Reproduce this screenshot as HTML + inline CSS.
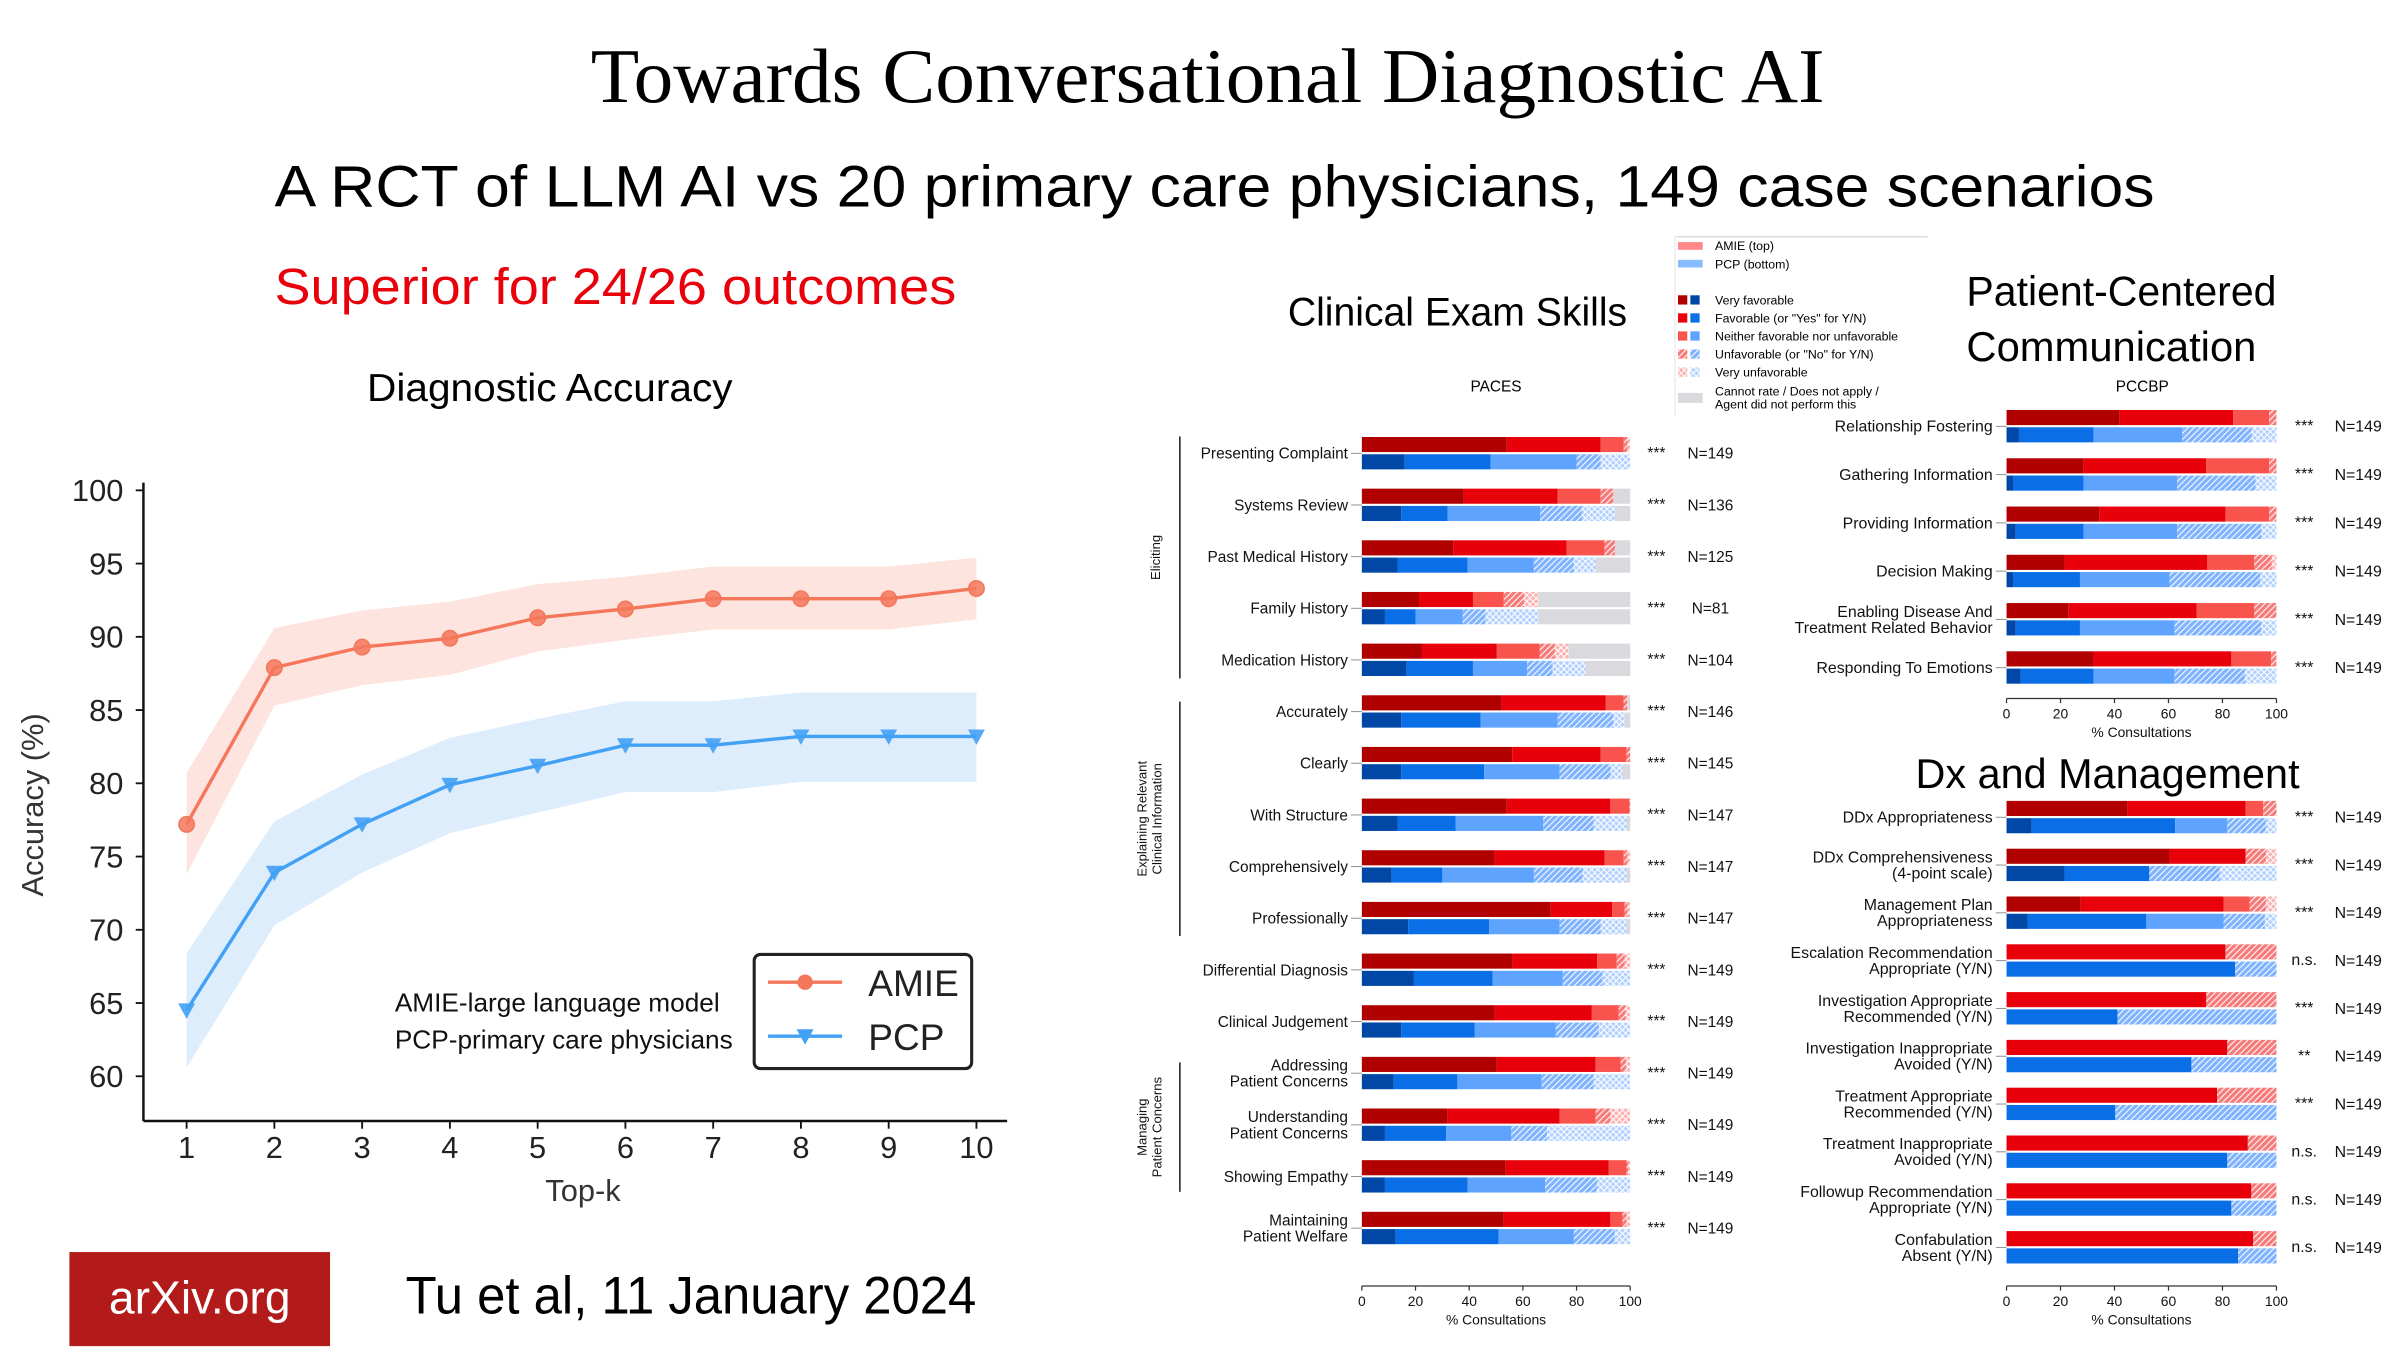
<!DOCTYPE html>
<html><head><meta charset="utf-8">
<style>
html,body{margin:0;padding:0;background:#fff;}
svg{display:block;}
text{font-family:"Liberation Sans","DejaVu Sans",sans-serif;}
</style></head>
<body>
<svg id="s" xmlns="http://www.w3.org/2000/svg" width="2406" height="1360" viewBox="0 0 1560 882" preserveAspectRatio="none">
<defs>
<pattern id="hatchR" patternUnits="userSpaceOnUse" width="4" height="4"><rect width="4" height="4" fill="#f77a7a"/><path d="M-1,5 L5,-1 M-1,1 L1,-1 M3,5 L5,3" stroke="#fff" stroke-width="0.7"/></pattern>
<pattern id="crossR" patternUnits="userSpaceOnUse" width="4" height="4"><rect width="4" height="4" fill="#fbb0b0"/><path d="M0,0 L4,4 M4,0 L0,4" stroke="#fff" stroke-width="0.7"/></pattern>
<pattern id="hatchB" patternUnits="userSpaceOnUse" width="4" height="4"><rect width="4" height="4" fill="#7fb3ff"/><path d="M-1,5 L5,-1 M-1,1 L1,-1 M3,5 L5,3" stroke="#fff" stroke-width="0.7"/></pattern>
<pattern id="crossB" patternUnits="userSpaceOnUse" width="4" height="4"><rect width="4" height="4" fill="#b0d0ff"/><path d="M0,0 L4,4 M4,0 L0,4" stroke="#fff" stroke-width="0.7"/></pattern>
</defs>
<text x="383" y="66" font-size="50" textLength="800" lengthAdjust="spacingAndGlyphs" style="font-family:'Liberation Serif',serif">Towards Conversational Diagnostic AI</text>
<text x="178" y="134" font-size="38" textLength="1219" lengthAdjust="spacingAndGlyphs">A RCT of LLM AI vs 20 primary care physicians, 149 case scenarios</text>
<text x="178" y="197" font-size="33" fill="#e8000b" textLength="442" lengthAdjust="spacingAndGlyphs">Superior for 24/26 outcomes</text>
<text x="238" y="260" font-size="25" textLength="237" lengthAdjust="spacingAndGlyphs">Diagnostic Accuracy</text>
<text x="835" y="211" font-size="26" textLength="220" lengthAdjust="spacingAndGlyphs">Clinical Exam Skills</text>
<text x="1275" y="198" font-size="27" textLength="201" lengthAdjust="spacingAndGlyphs">Patient-Centered</text>
<text x="1275" y="234" font-size="27" textLength="188" lengthAdjust="spacingAndGlyphs">Communication</text>
<text x="1242" y="511" font-size="27" textLength="249" lengthAdjust="spacingAndGlyphs">Dx and Management</text>
<text x="970" y="254" font-size="10" text-anchor="middle">PACES</text>
<text x="1389" y="254" font-size="10" text-anchor="middle">PCCBP</text>
<rect x="45" y="812" width="169" height="61" fill="#b31b1b"/>
<text x="129.5" y="852" font-size="30" fill="#fff" text-anchor="middle">arXiv.org</text>
<text x="263" y="852" font-size="34" textLength="370" lengthAdjust="spacingAndGlyphs">Tu et al, 11 January 2024</text>
<g id="line"></g>
<g id="bars"></g>
<g id="legend"></g>
</svg>
<script>
// ---- Line chart data ----
const topK = [1,2,3,4,5,6,7,8,9,10];
const amieAcc = [77.2,87.9,89.3,89.9,91.3,91.9,92.6,92.6,92.6,93.3];
const amieUpper = [80.7,90.6,91.8,92.4,93.6,94.1,94.8,94.8,94.8,95.4];
const amieLower = [73.8,85.3,86.7,87.4,89.0,89.8,90.5,90.5,90.5,91.2];
const pcpAcc = [64.5,73.9,77.2,79.9,81.2,82.6,82.6,83.2,83.2,83.2];
const pcpUpper = [68.4,77.4,80.6,83.1,84.4,85.6,85.6,86.2,86.2,86.2];
const pcpLower = [60.6,70.3,73.9,76.6,78.0,79.4,79.4,80.1,80.1,80.1];
const yTicks = [60,65,70,75,80,85,90,95,100];

// ---- Clinical exam (PACES) data: [veryFav, fav, neither, unfav, veryUnfav, cannotRate] ----
const pacesLabels = [["Presenting Complaint"],["Systems Review"],["Past Medical History"],["Family History"],["Medication History"],["Accurately"],["Clearly"],["With Structure"],["Comprehensively"],["Professionally"],["Differential Diagnosis"],["Clinical Judgement"],["Addressing","Patient Concerns"],["Understanding","Patient Concerns"],["Showing Empathy"],["Maintaining","Patient Welfare"]];
const pacesAmie = [[54,35,8.6,1.5,0.9,0],[38,35,16,4.7,0,6.3],[34,42.3,14.1,3.9,0,5.7],[21.3,20.1,11.5,7.5,5.3,34.3],[22.4,27.9,16,5.6,5.2,22.9],[52,38.8,6.7,1.4,0,1.1],[56,33,9.6,1.4,0,0],[54,38.6,7.1,0.3,0,0],[49.4,41,7.2,1.4,1,0],[70.4,22.9,4.6,1.1,1,0],[56.1,31.6,7.3,3,2,0],[49.4,36.3,10,2.5,1.8,0],[50.3,36.8,9.3,2,1.6,0],[32,41.7,13.4,5.5,7.4,0],[53.6,38.3,6.7,0.7,0.7,0],[52.9,39.7,4.5,1.5,1.4,0]];
const pacesPcp = [[16,32,32,9,11,0],[14.7,17.3,34.4,15.6,12.3,5.7],[13.3,26.1,24.7,14.9,8.1,12.9],[8.6,11.4,17.6,8.5,19.6,34.3],[16.6,24.8,20.2,9.5,12.2,16.7],[14.7,29.6,28.7,20.7,4.2,2.1],[14.7,30.9,28.1,19,4.4,2.9],[13.3,21.6,32.7,18.8,12.2,1.4],[11.1,18.9,34.1,18.2,16.3,1.4],[17.3,30.1,26.3,15.3,9.6,1.4],[19.4,29.3,26.2,14.8,10.3,0],[14.7,27.4,30.2,16,11.7,0],[11.9,23.7,31.4,19.4,13.6,0],[8.6,22.8,24.3,13.3,31,0],[8.6,30.8,28.9,19.3,12.4,0],[12.6,38.3,28.1,15.3,5.7,0]];
const pacesStars = ["***","***","***","***","***","***","***","***","***","***","***","***","***","***","***","***"];
const pacesN = ["N=149","N=136","N=125","N=81","N=104","N=146","N=145","N=147","N=147","N=147","N=149","N=149","N=149","N=149","N=149","N=149"];

// ---- PCCBP data ----
const pccLabels = [["Relationship Fostering"],["Gathering Information"],["Providing Information"],["Decision Making"],["Enabling Disease And","Treatment Related Behavior"],["Responding To Emotions"]];
const pccAmie = [[41.8,42.2,13.3,2.7,0,0],[28.6,45.4,23.3,2.7,0,0],[34.3,46.8,16.2,2.7,0,0],[21.5,52.9,17.4,6.5,1.7,0],[22.9,47.5,21.4,8.2,0,0],[32.2,51.1,14.7,2,0,0]];
const pccPcp = [[4.6,27.6,32.9,25.7,9.2,0],[2.4,26.2,34.6,29.1,7.7,0],[3.4,25.2,34.6,31.2,5.6,0],[2.4,24.8,33.2,33.6,6,0],[3.4,23.8,35,32.2,5.6,0],[5.3,26.9,30,26.1,11.7,0]];
const pccStars = ["***","***","***","***","***","***"];
const pccN = ["N=149","N=149","N=149","N=149","N=149","N=149"];

// ---- Dx and Management data ----
const dxLabels = [["DDx Appropriateness"],["DDx Comprehensiveness","(4-point scale)"],["Management Plan","Appropriateness"],["Escalation Recommendation","Appropriate (Y/N)"],["Investigation Appropriate","Recommended (Y/N)"],["Investigation Inappropriate","Avoided (Y/N)"],["Treatment Appropriate","Recommended (Y/N)"],["Treatment Inappropriate","Avoided (Y/N)"],["Followup Recommendation","Appropriate (Y/N)"],["Confabulation","Absent (Y/N)"]];
const dxAmie = [[44.9,43.7,6.5,4.9,0,0],[60.4,28.2,0,7.5,3.9,0],[27.5,52.9,9.6,6.1,3.9,0],[0,81.1,0,18.9,0,0],[0,74,0,26,0,0],[0,81.8,0,18.2,0,0],[0,78,0,22,0,0],[0,89.4,0,10.6,0,0],[0,90.7,0,9.3,0,0],[0,91.4,0,8.6,0,0]];
const dxPcp = [[9.3,53.2,19.3,14.3,3.9,0],[21.5,31.4,0,26.1,21,0],[7.9,43.9,28.6,15.3,4.3,0],[0,84.7,0,15.3,0,0],[0,41.1,0,58.9,0,0],[0,68.5,0,31.5,0,0],[0,40.3,0,59.7,0,0],[0,81.8,0,18.2,0,0],[0,83.3,0,16.7,0,0],[0,85.8,0,14.2,0,0]];
const dxStars = ["***","***","***","n.s.","***","**","***","n.s.","n.s.","n.s."];
const dxN = ["N=149","N=149","N=149","N=149","N=149","N=149","N=149","N=149","N=149","N=149"];

const xTicksPct = [0,20,40,60,80,100];
const legendItems = ["Very favorable","Favorable (or \"Yes\" for Y/N)","Neither favorable nor unfavorable","Unfavorable (or \"No\" for Y/N)","Very unfavorable"];

const NS = "http://www.w3.org/2000/svg";
function mk(tag, attrs, parent, txt){
  const e = document.createElementNS(NS, tag);
  for (const k in attrs) e.setAttribute(k, attrs[k]);
  if (txt !== undefined) e.textContent = txt;
  parent.appendChild(e);
  return e;
}
const redFills = ["#b00000","#e8000b","#f9534e","url(#hatchR)","url(#crossR)","#d9d9de"];
const blueFills = ["#0047a6","#0a6fe6","#5ea4ff","url(#hatchB)","url(#crossB)","#d9d9de"];

// ---- Line chart ----
const LG = document.getElementById("line");
const lx = k => 121 + (k - 1) * 56.9;
const ly = v => 318 + (100 - v) * 9.5;
function band(up, lo, fill, name){
  let d = "M" + topK.map((k,i)=>lx(k)+","+ly(up[i])).join(" L");
  d += " L" + topK.slice().reverse().map((k,j)=>{const i=topK.length-1-j;return lx(k)+","+ly(lo[i]);}).join(" L") + "Z";
  const p = mk("path",{d:d,fill:fill},LG);
  
  
}
band(amieUpper, amieLower, "#fde4de", "amie-confidence-band");
band(pcpUpper, pcpLower, "#deedfc", "pcp-confidence-band");
let ax = mk("line",{x1:93,y1:313,x2:93,y2:727,stroke:"#111","stroke-width":1.6},LG);


ax = mk("line",{x1:93,y1:727,x2:653,y2:727,stroke:"#111","stroke-width":1.6},LG);


yTicks.forEach(v=>{
  mk("line",{x1:88,y1:ly(v),x2:93,y2:ly(v),stroke:"#111","stroke-width":1.2},LG);
  const t = mk("text",{x:80,y:ly(v)+7,"font-size":20,"text-anchor":"end",fill:"#222"},LG,String(v));
  
  
});
topK.forEach(k=>{
  mk("line",{x1:lx(k),y1:727,x2:lx(k),y2:732,stroke:"#111","stroke-width":1.2},LG);
  const t = mk("text",{x:lx(k),y:751,"font-size":20,"text-anchor":"middle",fill:"#222"},LG,String(k));
  
  
});
let t0 = mk("text",{x:378,y:779,"font-size":20,"text-anchor":"middle",fill:"#333"},LG,"Top-k");


t0 = mk("text",{x:0,y:0,"font-size":20,"text-anchor":"middle",fill:"#333",transform:"translate(28,522) rotate(-90)"},LG,"Accuracy (%)");


let pl = mk("polyline",{points:topK.map((k,i)=>lx(k)+","+ly(amieAcc[i])).join(" "),fill:"none",stroke:"#f4775b","stroke-width":2.2},LG);


topK.forEach((k,i)=>{
  const c = mk("circle",{cx:lx(k),cy:ly(amieAcc[i]),r:5,fill:"#f4775b","fill-opacity":0.85,stroke:"#f4775b"},LG);
  
  
});
pl = mk("polyline",{points:topK.map((k,i)=>lx(k)+","+ly(pcpAcc[i])).join(" "),fill:"none",stroke:"#42a0f5","stroke-width":2.2},LG);


topK.forEach((k,i)=>{
  const x=lx(k), y=ly(pcpAcc[i]);
  const c = mk("path",{d:`M${x-5.5},${y-4.5} L${x+5.5},${y-4.5} L${x},${y+5.5}Z`,fill:"#42a0f5","fill-opacity":0.9},LG);
  
  
});
let lb = mk("rect",{x:489,y:619,width:141,height:74,rx:4,fill:"#fff",stroke:"#222","stroke-width":2},LG);


mk("line",{x1:498,y1:637,x2:546,y2:637,stroke:"#f4775b","stroke-width":2.2},LG);
mk("circle",{cx:522,cy:637,r:5,fill:"#f4775b"},LG);
t0 = mk("text",{x:563,y:646,"font-size":24,fill:"#222"},LG,"AMIE");


mk("line",{x1:498,y1:672,x2:546,y2:672,stroke:"#42a0f5","stroke-width":2.2},LG);
mk("path",{d:"M516.5,667.5 L527.5,667.5 L522,677.5Z",fill:"#42a0f5"},LG);
t0 = mk("text",{x:563,y:681,"font-size":24,fill:"#222"},LG,"PCP");


t0 = mk("text",{x:256,y:656,"font-size":17,fill:"#111"},LG,"AMIE-large language model");


t0 = mk("text",{x:256,y:680,"font-size":17,fill:"#111"},LG,"PCP-primary care physicians");



// ---- Stacked bar charts ----
const BG = document.getElementById("bars");
function stackChart(cfg){
  const g = mk("g",{},BG);
  
  
  const sx = v => cfg.x0 + v * (cfg.x1 - cfg.x0) / 100;
  cfg.labels.forEach((lab,i)=>{
    const c = cfg.c0 + cfg.step * i;
    [[cfg.amie[i], redFills, c - 10.6, 'amie'], [cfg.pcp[i], blueFills, c + 0.6, 'pcp']].forEach(([vals, fills, y, who])=>{
      let acc = 0;
      vals.forEach((v,j)=>{
        if (v <= 0) return;
        const r = mk("rect",{x:sx(acc),y:y,width:sx(acc+v)-sx(acc),height:9.8,fill:fills[j]},g);
        
        
        acc += v;
      });
    });
    mk("line",{x1:cfg.x0-7,y1:c,x2:cfg.x0,y2:c,stroke:"#888","stroke-width":0.6},g);
    const lineH = 10.4;
    lab.forEach((s,k)=>{
      const ty = c + 3.5 + (k - (lab.length-1)/2) * lineH;
      const t = mk("text",{x:cfg.x0-9,y:ty,"font-size":cfg.fs,"text-anchor":"end",fill:"#111","font-family":cfg.font},g,s);
      
      
    });
    let t = mk("text",{x:cfg.starX,y:c+3,"font-size":cfg.fs,"text-anchor":"middle",fill:"#111","font-family":cfg.font},g,cfg.stars[i]);
    
    
    t = mk("text",{x:cfg.nX,y:c+3.5,"font-size":cfg.fs,"text-anchor":"middle",fill:"#111","font-family":cfg.font},g,cfg.n[i]);
    
    
  });
  const ay = cfg.axisY;
  const al = mk("line",{x1:cfg.x0,y1:ay,x2:cfg.x1,y2:ay,stroke:"#333","stroke-width":0.8},g);
  
  
  xTicksPct.forEach(v=>{
    mk("line",{x1:sx(v),y1:ay,x2:sx(v),y2:ay+3,stroke:"#333","stroke-width":0.8},g);
    const t = mk("text",{x:sx(v),y:ay+13,"font-size":9,"text-anchor":"middle",fill:"#111","font-family":cfg.font},g,String(v));
    
    
  });
  const t = mk("text",{x:(cfg.x0+cfg.x1)/2,y:ay+25,"font-size":9,"text-anchor":"middle",fill:"#111","font-family":cfg.font},g,"% Consultations");
  
  
}
const DJ = "'DejaVu Sans',sans-serif", LS = "'Liberation Sans',sans-serif";
stackChart({name:"paces-chart",labels:pacesLabels,amie:pacesAmie,pcp:pacesPcp,stars:pacesStars,n:pacesN,x0:883,x1:1057,c0:294,step:33.5,axisY:834,starX:1074,nX:1109,fs:10,font:DJ});
stackChart({name:"pccbp-chart",labels:pccLabels,amie:pccAmie,pcp:pccPcp,stars:pccStars,n:pccN,x0:1301,x1:1476,c0:276.5,step:31.3,axisY:453,starX:1494,nX:1529,fs:10.3,font:LS});
stackChart({name:"dx-chart",labels:dxLabels,amie:dxAmie,pcp:dxPcp,stars:dxStars,n:dxN,x0:1301,x1:1476,c0:530,step:31,axisY:834,starX:1494,nX:1529,fs:10.3,font:LS});

const groups = [[283,440,["Eliciting"]],[455,607,["Explaining Relevant","Clinical Information"]],[689,773,["Managing","Patient Concerns"]]];
groups.forEach(([a,b,ls])=>{
  const l = mk("line",{x1:765,y1:a,x2:765,y2:b,stroke:"#222","stroke-width":1},BG);
  
  
  ls.forEach((s,k)=>{
    const x = 752 - (ls.length-1-k)*9.5 + (ls.length===1?0:1);
    const t = mk("text",{x:0,y:0,"font-size":8.5,"text-anchor":"middle",fill:"#111",transform:`translate(${x},${(a+b)/2}) rotate(-90)`},BG,s);
    
    
  });
});

// ---- Bar legend ----
const LEG = document.getElementById("legend");
mk("rect",{x:1085,y:153,width:166,height:117,fill:"#fff"},LEG);
mk("line",{x1:1087,y1:153.5,x2:1250,y2:153.5,stroke:"#ddd","stroke-width":1},LEG);
mk("line",{x1:1086,y1:153,x2:1086,y2:270,stroke:"#eee","stroke-width":1},LEG);
mk("rect",{x:1088,y:157,width:16,height:5,fill:"#f88"},LEG);
let lt = mk("text",{x:1112,y:162,"font-size":8},LEG,"AMIE (top)");


mk("rect",{x:1088,y:168.5,width:16,height:5,fill:"#8bf"},LEG);
lt = mk("text",{x:1112,y:174,"font-size":8},LEG,"PCP (bottom)");


legendItems.forEach((s,i)=>{
  const y = 194.5 + i * 11.7;
  mk("rect",{x:1088,y:y-3,width:6,height:6,fill:redFills[i]},LEG);
  mk("rect",{x:1096,y:y-3,width:6,height:6,fill:blueFills[i]},LEG);
  const t = mk("text",{x:1112,y:y+3,"font-size":8},LEG,s);
  
  
});
mk("rect",{x:1088,y:254.8,width:16,height:6.5,fill:"#d9d9de"},LEG);
lt = mk("text",{x:1112,y:256.5,"font-size":8},LEG,"Cannot rate / Does not apply /");


lt = mk("text",{x:1112,y:265,"font-size":8},LEG,"Agent did not perform this");


</script>
</body></html>
